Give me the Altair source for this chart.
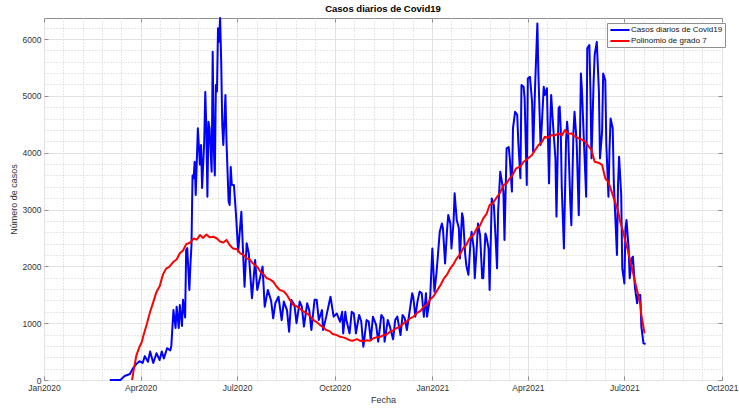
import altair as alt
import pandas as pd

# ---------------- data (days since 2020-01-01) ----------------
blue_days = [
    62, 72, 76, 81, 84, 87, 90, 93, 95, 98,
    100, 103, 106, 109, 111, 113, 116, 119, 120, 122,
    124, 125, 127, 128, 130, 131, 133, 134, 135, 137,
    138, 139, 140, 141, 142, 143, 145, 147, 148, 149,
    151, 152, 153, 154, 155, 156, 158, 159, 160, 161,
    162, 163, 164, 165, 166, 167, 168, 169, 171, 172,
    174, 175, 176, 177, 179, 181, 183, 186, 189, 191,
    193, 196, 199, 201, 206, 208, 211, 214, 216, 218,
    221, 224, 226, 229, 231, 233, 236, 238, 241, 243,
    245, 248, 250, 252, 255, 257, 259, 262, 263, 266,
    270, 273, 276, 279, 281, 282, 284, 285, 288, 290,
    292, 294, 297, 299, 301, 304, 306, 308, 310, 313,
    315, 318, 320, 321, 324, 326, 329, 331, 333, 336,
    338, 340, 342, 345, 347, 348, 350, 352, 354, 356,
    358, 360, 361, 364, 366, 368, 370, 373, 375, 376,
    378, 380, 381, 383, 384, 386, 387, 389, 391, 392,
    394, 395, 397, 398, 400, 402, 403, 405, 406, 408,
    409, 411, 413, 414, 416, 417, 419, 420, 422, 424,
    425, 427, 428, 430, 431, 433, 434, 436, 438, 439,
    441, 442, 444, 446, 447, 449, 450, 452, 453, 455,
    456, 458, 460, 461, 463, 465, 466, 468, 469, 471,
    472, 474, 475, 476, 477, 478, 480, 482, 483, 485,
    486, 487, 488, 490, 492, 493, 494, 496, 497, 499,
    500, 502, 504, 505, 506, 507, 509, 511, 512, 514,
    515, 516, 518, 519, 521, 523, 524, 526, 527, 529,
    530, 532, 533, 534, 536, 537, 540, 541, 542, 544,
    545, 547, 548, 549, 551, 552, 554, 555, 557, 559,
    560, 562, 563, 565, 567,
]
blue_cases = [
    0, 0, 70, 105, 210, 280, 330, 300, 420, 320,
    500, 300, 470, 350, 500, 380, 560, 520, 600, 1230,
    915, 1290, 915, 1320, 950, 1410, 1100, 2290, 2320, 1585,
    2025, 2375, 3600, 3550, 3840, 3255, 4430, 3790, 4135, 3380,
    4195, 5070, 4430, 3225, 4545, 4430, 3665, 5775, 4080, 3600,
    5190, 5075, 6190, 5950, 6370, 5600, 4490, 4135, 5015, 4195,
    3140, 3080, 3750, 3430, 3430, 2900, 2260, 2960, 1640, 2405,
    2230, 1440, 2110, 1585, 1995, 1290, 1585, 1400, 1085, 1350,
    1465, 1055, 1380, 1230, 850, 1410, 1320, 1000, 1380, 1290,
    940, 1350, 1230, 880, 1410, 1410, 1055, 1230, 880, 1115,
    1465, 1115, 1170, 1025, 1200, 820, 1200, 1055, 820, 1200,
    1170, 820, 1145, 1030, 585, 1055, 1030, 700, 1115, 970,
    675, 1145, 1085, 675, 1055, 940, 715, 1055, 1115, 790,
    1145, 1085, 880, 1260, 1525, 1465, 1115, 1380, 1555, 1525,
    1115, 1525, 1115, 1465, 2315, 1555, 1900, 2610, 2755, 2670,
    2050, 2670, 2905, 2755, 2315, 2780, 3285, 2815, 2670, 2140,
    2935, 2845, 2200, 2020, 1850, 2435, 2610, 2315, 1790, 2375,
    2755, 2550, 1790, 1790, 2580, 2520, 2315, 1585, 3195, 3080,
    2725, 1965, 2960, 3665, 3550, 3315, 2465, 4075, 4100, 3900,
    3315, 4430, 4720, 4665, 4195, 3550, 5190, 5160, 4955, 3430,
    5305, 5335, 4895, 4015, 5250, 6275, 5365, 4135, 4430, 5160,
    5015, 5135, 4250, 3460, 4430, 5015, 4430, 3900, 2875, 4780,
    4810, 4430, 3375, 2315, 4195, 4545, 4310, 3140, 2725, 4370,
    4720, 4195, 2900, 4075, 5395, 5100, 4135, 3225, 5835, 5895,
    5075, 3900, 5250, 5720, 5950, 5075, 3900, 4370, 5395, 5275,
    4135, 3225, 4075, 4600, 4430, 3490, 2200, 3430, 3930, 3255,
    1965, 1700, 2670, 2815, 2315, 1790, 2140, 2170, 1615, 1350,
    1495, 1495, 940, 645, 633,
]

red_days = [
    83, 84, 87, 90, 92, 94, 97, 100, 103, 106,
    109, 112, 115, 118, 122, 125, 128, 131, 134, 138,
    141, 144, 147, 150, 153, 156, 160, 163, 166, 169,
    172, 175, 178, 182, 185, 188, 191, 194, 197, 201,
    204, 207, 210, 213, 216, 219, 222, 226, 229, 232,
    235, 238, 241, 244, 248, 251, 254, 257, 260, 263,
    266, 269, 272, 276, 279, 282, 285, 288, 291, 295,
    298, 301, 304, 307, 310, 313, 317, 320, 323, 326,
    329, 332, 336, 339, 342, 345, 348, 351, 355, 358,
    361, 364, 367, 370, 374, 377, 380, 383, 386, 389,
    392, 395, 398, 401, 405, 408, 411, 414, 417, 420,
    423, 426, 430, 433, 436, 439, 442, 445, 449, 452,
    455, 458, 460, 463, 466, 469, 472, 475, 478, 481,
    485, 488, 491, 494, 497, 500, 504, 507, 510, 513,
    516, 519, 523, 526, 529, 532, 535, 538, 541, 543,
    546, 548, 550, 552, 555, 557, 560, 562, 563, 566,
]
red_fit = [
    0, 117, 430, 585, 660, 800, 990, 1200, 1370, 1550,
    1650, 1850, 1960, 1990, 2080, 2120, 2230, 2280, 2390, 2420,
    2490, 2470, 2550, 2500, 2560, 2510, 2520, 2490, 2435, 2420,
    2465, 2375, 2315, 2300, 2230, 2200, 2140, 2120, 2050, 1990,
    1905, 1860, 1790, 1770, 1730, 1650, 1585, 1560, 1495, 1400,
    1320, 1300, 1260, 1210, 1170, 1120, 1055, 1020, 970, 930,
    880, 860, 810, 790, 760, 750, 730, 700, 690, 720,
    690, 680, 700, 690, 730, 750, 760, 790, 800, 850,
    870, 910, 950, 1000, 1030, 1085, 1110, 1170, 1220, 1290,
    1330, 1420, 1470, 1560, 1680, 1790, 1860, 1965, 2040, 2140,
    2210, 2315, 2380, 2490, 2560, 2670, 2720, 2845, 2920, 3080,
    3110, 3195, 3300, 3430, 3460, 3550, 3620, 3725, 3760, 3840,
    3880, 3930, 3960, 4050, 4135, 4180, 4280, 4260, 4310, 4300,
    4340, 4300, 4400, 4330, 4340, 4290, 4250, 4230, 4195, 4120,
    4045, 3840, 3820, 3785, 3550, 3480, 3315, 3140, 2980, 2785,
    2600, 2435, 2300, 2140, 1900, 1730, 1495, 1330, 1145, 820,
]

series_names = ["Casos diarios de Covid19", "Polinomio de grado 7"]
series_colors = ["#0000ff", "#ff0000"]

x_tick_days = [0, 91, 182, 274, 366, 456, 547, 639]
x_tick_labels = ["Jan2020", "Apr2020", "Jul2020", "Oct2020",
                 "Jan2021", "Apr2021", "Jul2021", "Oct2021"]
y_ticks = [0, 1000, 2000, 3000, 4000, 5000, 6000]
y_max = 6370

assert len(blue_days) == len(blue_cases)
assert len(red_days) == len(red_fit)

# ---------------- build table ----------------
df = pd.concat([
    pd.DataFrame({"day": blue_days, "cases": blue_cases, "serie": series_names[0]}),
    pd.DataFrame({"day": red_days, "cases": red_fit, "serie": series_names[1]}),
], ignore_index=True)

x_minor = [a + k * (b - a) / 5 for a, b in zip(x_tick_days[:-1], x_tick_days[1:]) for k in range(1, 5)]
y_minor = [v for v in range(0, y_max + 1, 200) if v % 1000 != 0]

label_expr = " : ".join(
    f"datum.value == {d} ? '{l}'" for d, l in zip(x_tick_days, x_tick_labels)
) + " : ''"

FONT = "Liberation Sans"
FRAME = "#8f8f8f"
TXT = "#333333"

xs = alt.Scale(domain=[x_tick_days[0], x_tick_days[-1]], nice=False, zero=False)
ys = alt.Scale(domain=[0, y_max], nice=False, zero=False)

base = alt.Chart(df)

hidden = dict(labels=False, ticks=False, domain=False, title=None)

minor = base.mark_line(strokeOpacity=0).encode(
    x=alt.X("day:Q", scale=xs, axis=alt.Axis(orient="bottom", values=x_minor, grid=True,
                                             gridDash=[1, 2], gridColor="#cfcfcf", **hidden)),
    y=alt.Y("cases:Q", scale=ys, axis=alt.Axis(orient="left", values=y_minor, grid=True,
                                               gridDash=[1, 2], gridColor="#cfcfcf", **hidden)),
    detail="serie:N",
)

major = base.mark_line(strokeOpacity=0).encode(
    x=alt.X("day:Q", scale=xs, axis=alt.Axis(
        orient="bottom", values=x_tick_days, labelExpr=label_expr, grid=True,
        gridColor="#e2e2e2", ticks=False, domain=False, labelFont=FONT, labelFontSize=8.5,
        labelColor=TXT, labelPadding=3, labelFlush=False, title="Fecha", titleFont=FONT,
        titleFontSize=9, titleFontWeight="normal", titleColor=TXT, titlePadding=4)),
    y=alt.Y("cases:Q", scale=ys, axis=alt.Axis(
        orient="left", values=y_ticks, format="d", grid=True, gridColor="#e2e2e2",
        ticks=False, domain=False, labelFont=FONT, labelFontSize=8.5, labelColor=TXT,
        labelPadding=3, labelFlush=False, title="Número de casos", titleFont=FONT,
        titleFontSize=9, titleFontWeight="normal", titleColor=TXT, titlePadding=4)),
    detail="serie:N",
)

tick_style = dict(labels=False, grid=False, domain=False, title=None, ticks=True,
                  tickSize=4, tickColor=FRAME, tickWidth=1, offset=-4)

ticks_bl = base.mark_line(strokeOpacity=0).encode(
    x=alt.X("day:Q", scale=xs, axis=alt.Axis(values=x_tick_days, orient="bottom", **tick_style)),
    y=alt.Y("cases:Q", scale=ys, axis=alt.Axis(values=y_ticks, orient="left", **tick_style)),
    detail="serie:N",
)
ticks_tr = base.mark_line(strokeOpacity=0).encode(
    x=alt.X("day:Q", scale=xs, axis=alt.Axis(values=x_tick_days, orient="top", **tick_style)),
    y=alt.Y("cases:Q", scale=ys, axis=alt.Axis(values=y_ticks, orient="right", **tick_style)),
    detail="serie:N",
)

lines = base.mark_line(strokeWidth=2, strokeJoin="round").encode(
    x=alt.X("day:Q", scale=xs, axis=None),
    y=alt.Y("cases:Q", scale=ys, axis=None),
    color=alt.Color("serie:N", scale=alt.Scale(domain=series_names, range=series_colors),
                    legend=alt.Legend(
                        title=None, orient="none", legendX=563, legendY=5,
                        fillColor="white", strokeColor=FRAME, padding=2,
                        labelFont=FONT, labelFontSize=8, labelColor="#111111",
                        symbolType="M-2.4,0H2.4", symbolSize=64, symbolStrokeWidth=2,
                        symbolOffset=6, labelOffset=6, rowPadding=2,
                    )),
)

chart = alt.layer(minor, major, ticks_bl, ticks_tr, lines).resolve_axis(
    x="independent", y="independent"
).properties(
    width=678, height=362,
    title=alt.Title("Casos diarios de Covid19", font=FONT, fontSize=9.5,
                    fontWeight="bold", color="#000000", anchor="middle", offset=4),
).configure(
    autosize=alt.AutoSizeParams(type="none"),
    padding={"left": 44, "top": 18, "right": 17, "bottom": 28},
    background="white",
).configure_view(stroke=FRAME, strokeWidth=1)

chart.save("out.html", embed_options={"renderer": "svg", "actions": False})
